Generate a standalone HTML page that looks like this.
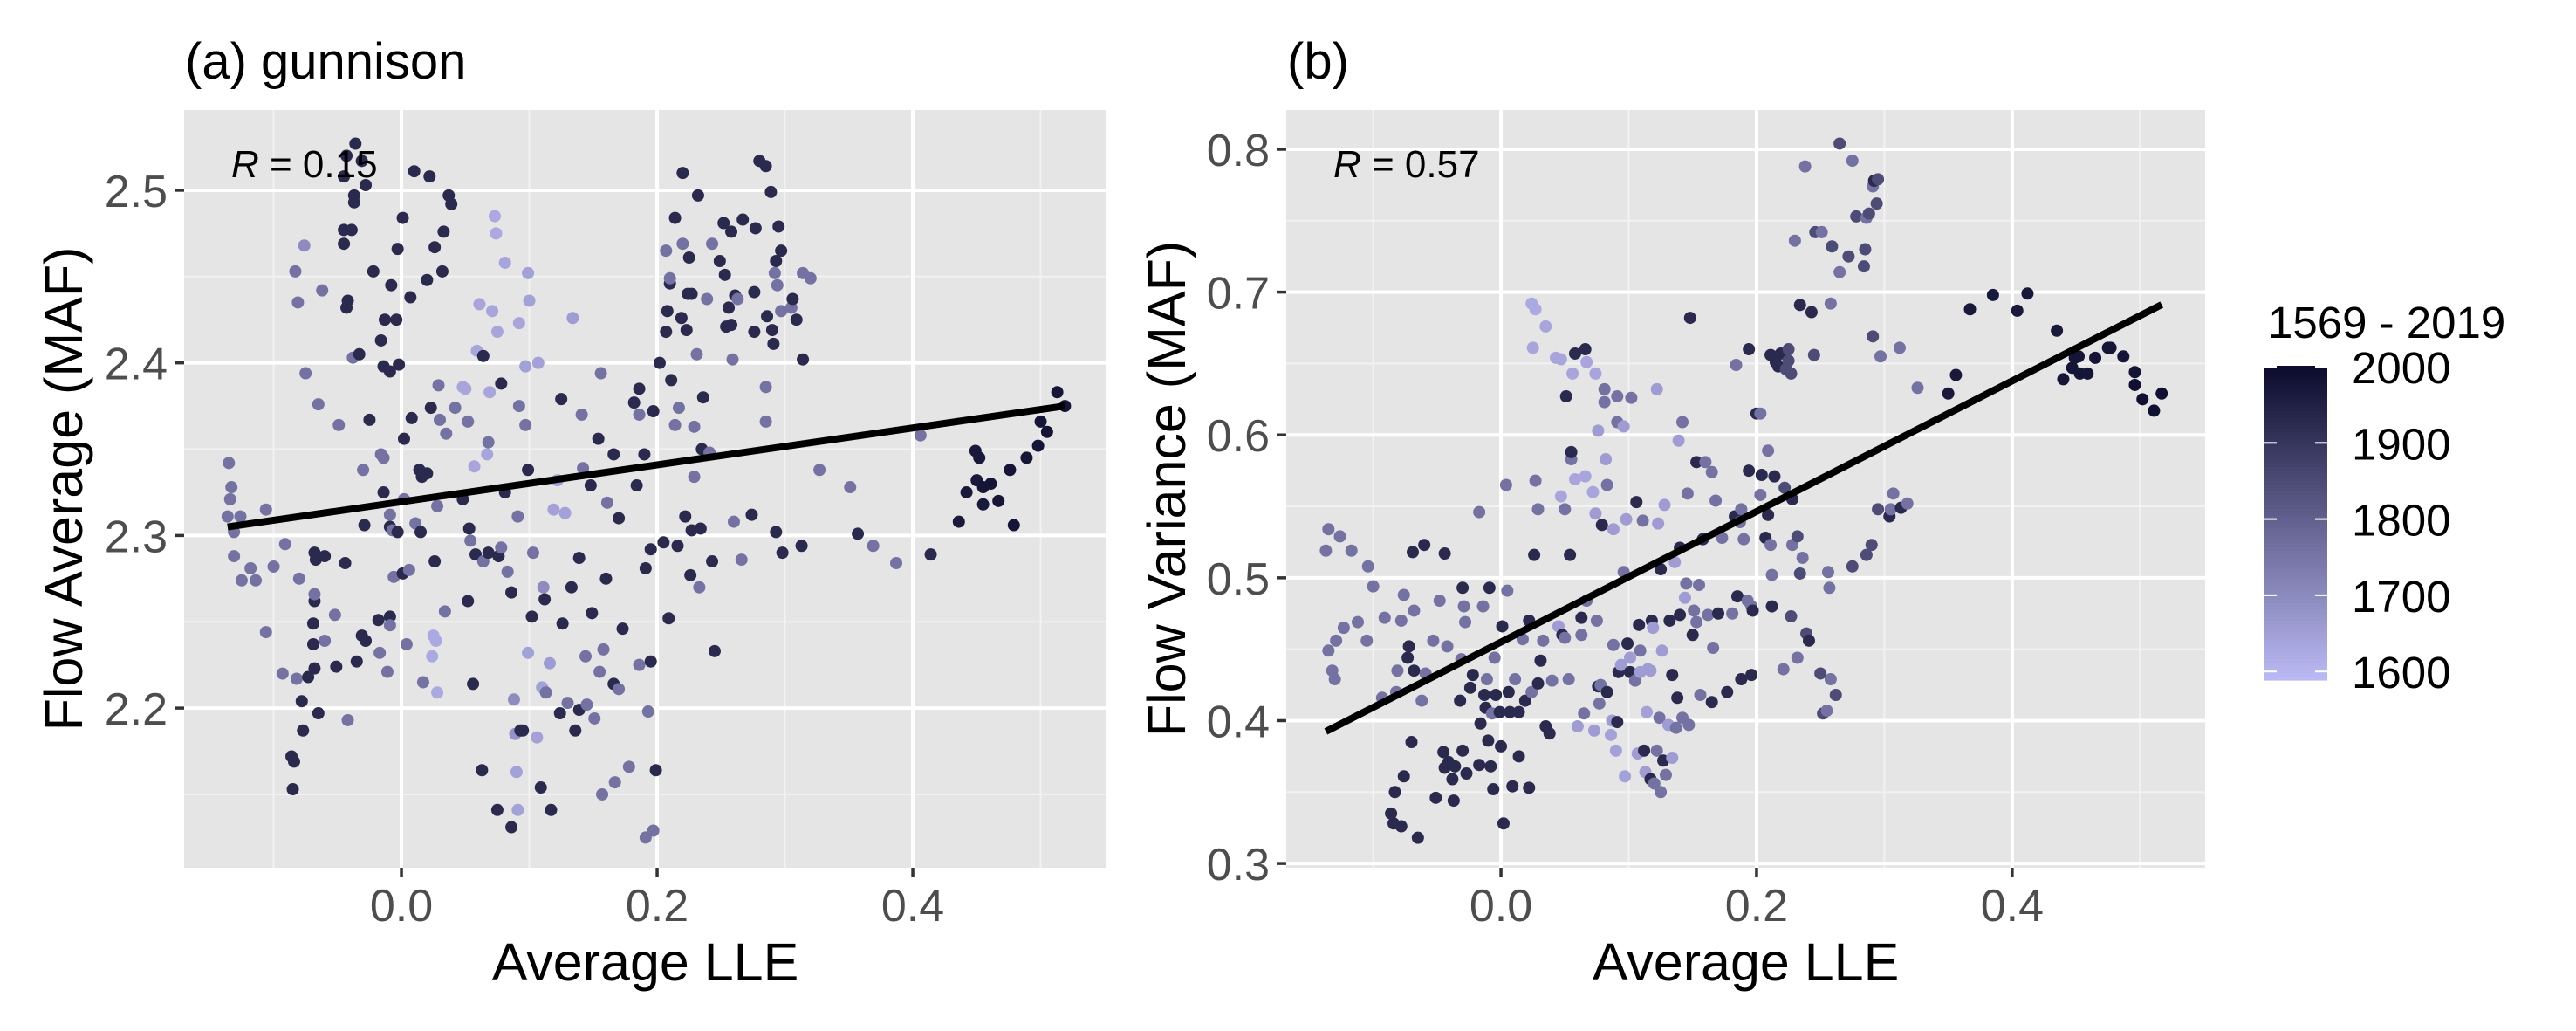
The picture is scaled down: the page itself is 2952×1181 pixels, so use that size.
<!DOCTYPE html>
<html>
<head>
<meta charset="utf-8">
<style>
html,body{margin:0;padding:0;background:#fff;}
svg{display:block;font-family:"Liberation Sans",Arial,sans-serif;}
</style>
</head>
<body>
<svg id="fig" width="2952" height="1181" viewBox="0 0 2952 1181" xmlns="http://www.w3.org/2000/svg">
  <rect x="0" y="0" width="2952" height="1181" fill="#ffffff"/>
  <g id="panelA"></g>
  <g id="panelB"></g>
  <g id="legend"></g>
</svg>
<script>
// ---------------- DATA ----------------
// Panel (a): average LLE vs flow average
const lleA = [-0.135,-0.136,-0.133,-0.134,-0.126,-0.131,-0.131,-0.125,-0.118,-0.114,-0.106,-0.100,-0.106,-0.091,-0.093,-0.086,-0.085,-0.084,-0.082,-0.078,-0.077,-0.080,-0.083,-0.081,-0.076,-0.075,-0.073,-0.068,-0.069,-0.069,-0.068,-0.068,-0.068,-0.067,-0.060,-0.065,-0.065,-0.062,-0.060,-0.052,-0.051,-0.049,-0.045,-0.045,-0.043,-0.042,-0.045,-0.043,-0.039,-0.037,-0.037,-0.036,-0.031,-0.028,-0.044,-0.042,-0.035,-0.038,-0.033,-0.030,-0.029,-0.031,-0.028,-0.025,-0.022,-0.018,-0.017,-0.016,-0.016,-0.014,-0.014,-0.014,-0.013,-0.011,-0.009,-0.009,-0.009,-0.008,-0.009,-0.009,-0.007,-0.006,-0.004,-0.003,-0.002,-0.003,0.001,0.002,0.001,0.002,0.004,0.007,0.006,0.008,0.010,0.011,0.015,0.014,0.016,0.017,0.020,0.020,0.022,0.023,0.026,0.026,0.028,0.024,0.025,0.027,0.028,0.029,0.030,0.032,0.033,0.035,0.034,0.037,0.039,0.042,0.048,0.048,0.050,0.052,0.052,0.053,0.054,0.056,0.057,0.058,0.059,0.061,0.064,0.063,0.064,0.067,0.068,0.068,0.069,0.071,0.073,0.074,0.075,0.075,0.076,0.078,0.078,0.081,0.081,0.083,0.086,0.086,0.088,0.089,0.090,0.091,0.092,0.093,0.091,0.092,0.095,0.097,0.097,0.099,0.099,0.100,0.099,0.102,0.103,0.106,0.107,0.109,0.110,0.111,0.112,0.113,0.116,0.117,0.119,0.122,0.124,0.126,0.125,0.128,0.130,0.133,0.134,0.136,0.139,0.139,0.141,0.142,0.144,0.145,0.148,0.149,0.151,0.155,0.154,0.156,0.157,0.158,0.160,0.161,0.166,0.166,0.167,0.170,0.170,0.173,0.178,0.182,0.184,0.186,0.186,0.186,0.190,0.191,0.191,0.193,0.195,0.197,0.195,0.197,0.199,0.202,0.205,0.207,0.207,0.208,0.209,0.210,0.210,0.211,0.214,0.214,0.216,0.217,0.220,0.220,0.219,0.223,0.224,0.225,0.227,0.222,0.226,0.227,0.229,0.229,0.231,0.232,0.233,0.234,0.236,0.235,0.239,0.241,0.243,0.243,0.245,0.249,0.252,0.253,0.254,0.256,0.258,0.258,0.259,0.260,0.261,0.263,0.266,0.267,0.274,0.276,0.277,0.276,0.280,0.285,0.285,0.286,0.285,0.289,0.290,0.291,0.292,0.293,0.293,0.294,0.295,0.297,0.297,0.298,0.305,0.306,0.309,0.313,0.314,0.314,0.320,0.327,0.351,0.357,0.369,0.387,0.406,0.414,0.436,0.442,0.449,0.450,0.452,0.455,0.455,0.461,0.467,0.476,0.479,0.489,0.498,0.500,0.505,0.513,0.519];
const avgA = [2.342,2.311,2.328,2.321,2.311,2.302,2.288,2.274,2.281,2.274,2.315,2.282,2.244,2.295,2.220,2.172,2.153,2.169,2.217,2.204,2.187,2.275,2.453,2.435,2.468,2.394,2.218,2.223,2.237,2.249,2.262,2.266,2.290,2.286,2.288,2.197,2.376,2.442,2.239,2.254,2.224,2.364,2.469,2.477,2.432,2.436,2.508,2.520,2.477,2.497,2.493,2.527,2.517,2.503,2.284,2.193,2.227,2.403,2.405,2.338,2.306,2.242,2.239,2.367,2.453,2.251,2.232,2.413,2.347,2.325,2.345,2.398,2.425,2.221,2.253,2.248,2.395,2.445,2.312,2.305,2.303,2.276,2.425,2.466,2.399,2.302,2.484,2.356,2.278,2.321,2.237,2.438,2.280,2.368,2.511,2.307,2.302,2.338,2.334,2.215,2.336,2.448,2.508,2.374,2.467,2.285,2.317,2.230,2.242,2.239,2.209,2.387,2.367,2.453,2.476,2.359,2.256,2.497,2.492,2.374,2.321,2.386,2.385,2.366,2.262,2.304,2.297,2.214,2.340,2.289,2.407,2.434,2.404,2.164,2.285,2.347,2.354,2.290,2.383,2.430,2.485,2.475,2.418,2.141,2.288,2.388,2.293,2.325,2.458,2.279,2.131,2.267,2.205,2.185,2.163,2.141,2.375,2.187,2.311,2.423,2.187,2.398,2.364,2.232,2.452,2.436,2.338,2.253,2.290,2.183,2.400,2.154,2.212,2.270,2.263,2.209,2.226,2.141,2.315,2.332,2.197,2.249,2.379,2.313,2.203,2.270,2.426,2.187,2.199,2.287,2.370,2.339,2.230,2.202,2.329,2.255,2.194,2.221,2.356,2.394,2.150,2.234,2.275,2.319,2.214,2.347,2.157,2.310,2.211,2.246,2.166,2.377,2.329,2.225,2.385,2.370,2.347,2.125,2.281,2.198,2.227,2.372,2.292,2.129,2.164,2.400,2.296,2.465,2.418,2.430,2.252,2.446,2.449,2.390,2.484,2.364,2.294,2.374,2.469,2.510,2.426,2.419,2.440,2.461,2.440,2.311,2.277,2.303,2.334,2.363,2.405,2.497,2.270,2.304,2.380,2.350,2.437,2.348,2.469,2.285,2.233,2.459,2.481,2.451,2.421,2.432,2.476,2.422,2.402,2.308,2.439,2.437,2.286,2.483,2.312,2.418,2.478,2.441,2.517,2.514,2.386,2.427,2.366,2.499,2.419,2.411,2.452,2.459,2.302,2.445,2.479,2.465,2.430,2.290,2.432,2.437,2.425,2.294,2.452,2.402,2.449,2.338,2.328,2.301,2.294,2.284,2.358,2.289,2.308,2.325,2.349,2.332,2.345,2.318,2.328,2.330,2.320,2.338,2.306,2.345,2.352,2.366,2.360,2.383,2.375];
const yearA = [1760,1760,1760,1760,1760,1760,1760,1760,1760,1760,1760,1760,1760,1760,1760,1930,1930,1930,1760,1930,1930,1760,1760,1760,1700,1760,1930,1930,1930,1930,1930,1760,1930,1930,1930,1930,1760,1760,1760,1760,1930,1760,1930,1930,1930,1930,1930,1930,1930,1930,1930,1930,1930,1930,1930,1760,1930,1760,1930,1760,1930,1930,1930,1930,1930,1930,1760,1930,1760,1930,1760,1930,1930,1760,1930,1760,1930,1930,1760,1930,1760,1760,1930,1930,1930,1930,1930,1930,1930,1760,1760,1930,1760,1930,1930,1760,1930,1930,1930,1760,1930,1930,1930,1930,1930,1930,1760,1630,1630,1630,1630,1760,1760,1930,1930,1760,1760,1930,1930,1760,1930,1640,1640,1760,1930,1930,1760,1930,1640,1930,1640,1640,1930,1930,1760,1640,1760,1930,1640,1640,1630,1630,1640,1930,1930,1930,1760,1930,1640,1760,1930,1930,1700,1680,1650,1650,1760,1930,1760,1640,1930,1650,1760,1650,1650,1650,1930,1930,1760,1650,1650,1930,1650,1700,1930,1760,1660,1930,1650,1650,1930,1930,1930,1650,1760,1930,1660,1930,1930,1930,1760,1760,1760,1760,1930,1930,1760,1760,1930,1760,1760,1760,1930,1760,1930,1930,1760,1930,1760,1930,1760,1930,1930,1760,1930,1760,1930,1760,1930,1760,1930,1930,1930,1760,1930,1930,1930,1760,1930,1930,1930,1930,1760,1930,1930,1760,1930,1760,1760,1930,1930,1930,1930,1930,1930,1930,1930,1930,1760,1760,1760,1930,1760,1930,1930,1930,1760,1760,1760,1930,1930,1930,1930,1930,1930,1930,1930,1930,1760,1760,1930,1760,1760,1930,1930,1930,1930,1930,1930,1930,1760,1930,1760,1930,1930,1930,1760,1930,1930,1760,1930,1930,1760,1930,1760,1930,1930,1930,1760,1930,1760,1760,1760,1930,1760,1760,1760,1930,1970,1970,1970,1970,1970,1970,1980,1980,1980,1980,1980,1980,1980,1980,1980,1980,1980,1990,1990,1990,1990,1990,1990];

// Panel (b): average LLE vs flow variance
const lleB = [-0.137,-0.135,-0.135,-0.132,-0.130,-0.129,-0.126,-0.123,-0.117,-0.112,-0.105,-0.104,-0.100,-0.093,-0.091,-0.086,-0.084,-0.083,-0.082,-0.081,-0.078,-0.078,-0.076,-0.076,-0.073,-0.072,-0.070,-0.069,-0.068,-0.068,-0.065,-0.062,-0.060,-0.059,-0.053,-0.051,-0.048,-0.045,-0.044,-0.044,-0.042,-0.041,-0.038,-0.037,-0.036,-0.032,-0.031,-0.030,-0.030,-0.029,-0.028,-0.027,-0.024,-0.022,-0.017,-0.017,-0.016,-0.014,-0.013,-0.012,-0.011,-0.010,-0.009,-0.008,-0.007,-0.006,-0.005,-0.004,-0.001,0.000,0.001,0.002,0.004,0.005,0.006,0.007,0.009,0.011,0.014,0.014,0.017,0.019,0.022,0.022,0.024,0.024,0.027,0.025,0.026,0.027,0.029,0.029,0.031,0.033,0.035,0.035,0.038,0.040,0.043,0.047,0.045,0.047,0.048,0.050,0.050,0.051,0.053,0.054,0.055,0.055,0.056,0.058,0.058,0.060,0.063,0.063,0.065,0.066,0.066,0.067,0.067,0.072,0.073,0.074,0.074,0.075,0.076,0.076,0.077,0.078,0.079,0.081,0.081,0.082,0.083,0.083,0.086,0.087,0.088,0.088,0.090,0.091,0.091,0.091,0.092,0.094,0.096,0.096,0.098,0.097,0.099,0.101,0.101,0.102,0.105,0.106,0.107,0.108,0.109,0.109,0.111,0.112,0.113,0.114,0.115,0.117,0.117,0.118,0.119,0.120,0.122,0.122,0.123,0.124,0.125,0.125,0.126,0.127,0.128,0.129,0.131,0.132,0.134,0.134,0.136,0.137,0.138,0.139,0.140,0.140,0.142,0.142,0.144,0.145,0.146,0.147,0.148,0.150,0.151,0.153,0.153,0.155,0.156,0.158,0.160,0.162,0.165,0.165,0.166,0.168,0.170,0.173,0.177,0.181,0.183,0.184,0.185,0.187,0.188,0.188,0.190,0.193,0.194,0.194,0.196,0.196,0.197,0.200,0.203,0.203,0.204,0.207,0.209,0.209,0.211,0.211,0.212,0.212,0.214,0.215,0.217,0.219,0.221,0.222,0.223,0.225,0.225,0.227,0.227,0.228,0.228,0.230,0.232,0.232,0.234,0.234,0.236,0.238,0.239,0.241,0.243,0.245,0.246,0.250,0.251,0.252,0.255,0.256,0.257,0.258,0.258,0.259,0.262,0.265,0.265,0.272,0.275,0.275,0.278,0.284,0.285,0.286,0.286,0.288,0.290,0.291,0.291,0.292,0.294,0.295,0.295,0.297,0.304,0.305,0.307,0.312,0.313,0.318,0.326,0.350,0.356,0.367,0.385,0.404,0.412,0.435,0.440,0.447,0.449,0.452,0.453,0.459,0.465,0.475,0.477,0.487,0.496,0.496,0.502,0.511,0.517];
const varB = [0.519,0.534,0.449,0.435,0.429,0.456,0.529,0.465,0.519,0.469,0.456,0.508,0.494,0.416,0.472,0.335,0.328,0.350,0.420,0.435,0.470,0.326,0.361,0.488,0.444,0.452,0.385,0.518,0.477,0.435,0.318,0.414,0.523,0.433,0.456,0.346,0.484,0.378,0.367,0.517,0.452,0.371,0.359,0.344,0.368,0.414,0.443,0.379,0.493,0.480,0.469,0.363,0.423,0.432,0.546,0.369,0.398,0.480,0.418,0.409,0.429,0.386,0.493,0.368,0.405,0.352,0.444,0.418,0.406,0.382,0.466,0.328,0.565,0.491,0.420,0.406,0.354,0.429,0.406,0.375,0.457,0.414,0.353,0.470,0.692,0.420,0.688,0.661,0.516,0.568,0.548,0.426,0.442,0.456,0.396,0.676,0.391,0.428,0.654,0.653,0.466,0.557,0.460,0.548,0.458,0.627,0.429,0.516,0.583,0.588,0.643,0.657,0.569,0.396,0.472,0.460,0.405,0.660,0.571,0.484,0.651,0.560,0.393,0.643,0.545,0.470,0.603,0.424,0.412,0.425,0.537,0.623,0.632,0.583,0.565,0.420,0.390,0.400,0.534,0.453,0.379,0.609,0.627,0.399,0.434,0.439,0.606,0.504,0.541,0.361,0.454,0.434,0.444,0.626,0.428,0.553,0.377,0.467,0.449,0.434,0.540,0.379,0.364,0.406,0.436,0.359,0.435,0.470,0.465,0.356,0.632,0.379,0.538,0.402,0.506,0.350,0.449,0.372,0.551,0.362,0.397,0.470,0.432,0.374,0.511,0.395,0.416,0.596,0.474,0.521,0.609,0.402,0.486,0.496,0.559,0.397,0.682,0.460,0.477,0.469,0.581,0.495,0.418,0.527,0.581,0.474,0.574,0.413,0.451,0.554,0.475,0.528,0.420,0.475,0.543,0.649,0.487,0.539,0.548,0.429,0.527,0.484,0.660,0.575,0.480,0.432,0.477,0.615,0.615,0.558,0.572,0.528,0.589,0.544,0.523,0.656,0.502,0.480,0.571,0.651,0.648,0.657,0.436,0.563,0.646,0.652,0.660,0.643,0.473,0.555,0.523,0.736,0.529,0.444,0.691,0.503,0.514,0.788,0.461,0.456,0.686,0.656,0.742,0.433,0.742,0.405,0.407,0.504,0.493,0.429,0.692,0.732,0.418,0.714,0.804,0.725,0.508,0.792,0.753,0.718,0.730,0.516,0.752,0.755,0.523,0.774,0.669,0.778,0.762,0.779,0.548,0.655,0.543,0.548,0.559,0.661,0.549,0.552,0.633,0.629,0.642,0.688,0.698,0.687,0.699,0.673,0.639,0.647,0.654,0.655,0.643,0.643,0.654,0.661,0.661,0.655,0.644,0.635,0.625,0.617,0.629];
const yearB = [1760,1760,1760,1760,1760,1760,1760,1760,1760,1760,1760,1760,1760,1760,1760,1930,1930,1930,1760,1760,1760,1930,1930,1760,1930,1930,1930,1930,1760,1930,1930,1760,1930,1760,1760,1930,1760,1930,1930,1930,1760,1930,1930,1930,1930,1930,1760,1930,1930,1760,1760,1930,1930,1930,1760,1930,1930,1760,1930,1930,1760,1930,1930,1930,1760,1930,1760,1930,1930,1930,1930,1930,1760,1760,1930,1930,1930,1760,1930,1930,1760,1930,1930,1930,1630,1760,1630,1640,1930,1760,1760,1930,1930,1760,1930,1640,1930,1760,1640,1640,1660,1640,1930,1760,1760,1930,1760,1930,1760,1930,1640,1930,1640,1660,1930,1760,1760,1930,1640,1760,1640,1640,1660,1640,1660,1760,1660,1930,1760,1760,1930,1760,1760,1660,1760,1930,1650,1660,1660,1760,1650,1760,1760,1930,1930,1660,1660,1760,1660,1650,1930,1930,1660,1760,1760,1930,1660,1930,1760,1660,1760,1930,1660,1650,1660,1930,1660,1930,1660,1760,1660,1760,1660,1760,1930,1760,1660,1930,1660,1760,1660,1930,1930,1660,1660,1760,1930,1660,1930,1930,1760,1760,1660,1760,1760,1760,1930,1930,1760,1760,1930,1760,1760,1930,1760,1760,1760,1930,1760,1760,1930,1760,1930,1760,1930,1760,1930,1760,1760,1930,1760,1760,1930,1930,1760,1930,1930,1930,1760,1760,1930,1930,1760,1930,1760,1930,1760,1930,1930,1930,1930,1930,1760,1850,1850,1850,1850,1850,1850,1930,1760,1760,1850,1760,1930,1850,1760,1760,1850,1930,1930,1850,1850,1850,1760,1850,1760,1760,1760,1760,1760,1850,1850,1760,1850,1850,1850,1760,1850,1850,1850,1850,1760,1850,1850,1760,1850,1930,1850,1850,1850,1760,1930,1760,1760,1760,1930,1760,1760,1970,1970,1970,1970,1970,1970,1970,1980,1980,1980,1980,1980,1980,1980,1980,1980,1980,1980,1990,1990,1990,1990,1990,1990];

// fitted lm lines (intercept, slope) and correlation labels
const fitA = [2.3195, 0.107];
const fitB = [0.455, 0.457];
const rLabels = ["0.15", "0.57"];

// axis ticks
const xTicks = [0.0, 0.2, 0.4];
const xMinor = [-0.1, 0.1, 0.3, 0.5];
const yTicksA = [2.2, 2.3, 2.4, 2.5];
const yMinorA = [2.15, 2.25, 2.35, 2.45];
const yTicksB = [0.3, 0.4, 0.5, 0.6, 0.7, 0.8];
const yMinorB = [0.35, 0.45, 0.55, 0.65, 0.75];
const legendTicks = [1600, 1700, 1800, 1900, 2000];

// ---------------- DRAW ----------------
const NS = "http://www.w3.org/2000/svg";
function mk(tag, attrs, parent) {
  const e = document.createElementNS(NS, tag);
  for (const k in attrs) e.setAttribute(k, attrs[k]);
  parent.appendChild(e);
  return e;
}
const lo = [197, 195, 255], hi = [4, 4, 36];
function yearColor(y) {
  let t = (y - 1569) / (2019 - 1569);
  t = Math.max(0, Math.min(1, t));
  const c = lo.map((v, i) => Math.round(v + (hi[i] - v) * t));
  return "rgb(" + c.join(",") + ")";
}
function fmt(v) { return v.toFixed(1); }

function panel(g, cfg) {
  const L = cfg.left, R = cfg.right, T = 126, B = 994;
  const sx = v => L + (v - cfg.xmin) / (cfg.xmax - cfg.xmin) * (R - L);
  const sy = v => B - (v - cfg.ymin) / (cfg.ymax - cfg.ymin) * (B - T);
  const bg = mk("rect", {x: L, y: T, width: R - L, height: B - T, fill: "#e5e5e5"}, g);
  
  
  cfg.yMinor.forEach(v => {
    const l = mk("line", {x1: L, x2: R, y1: sy(v), y2: sy(v), stroke: "#f2f2f2", "stroke-width": 2}, g);
    
    
  });
  xMinor.forEach(v => {
    const l = mk("line", {x1: sx(v), x2: sx(v), y1: T, y2: B, stroke: "#f2f2f2", "stroke-width": 2}, g);
    
    
  });
  cfg.yTicks.forEach(v => {
    const l = mk("line", {x1: L, x2: R, y1: sy(v), y2: sy(v), stroke: "#ffffff", "stroke-width": 4}, g);
    
    
    const tk = mk("line", {x1: L - 11, x2: L, y1: sy(v), y2: sy(v), stroke: "#333333", "stroke-width": 3.5}, g);
    
    
    const t = mk("text", {x: L - 19, y: sy(v) + 19, "text-anchor": "end", "font-size": 52, fill: "#4d4d4d"}, g);
    t.textContent = fmt(v);
    
    
  });
  xTicks.forEach(v => {
    const l = mk("line", {x1: sx(v), x2: sx(v), y1: T, y2: B, stroke: "#ffffff", "stroke-width": 4}, g);
    
    
    const tk = mk("line", {x1: sx(v), x2: sx(v), y1: B, y2: B + 11, stroke: "#333333", "stroke-width": 3.5}, g);
    
    
    const t = mk("text", {x: sx(v), y: 1055, "text-anchor": "middle", "font-size": 52, fill: "#4d4d4d"}, g);
    t.textContent = fmt(v);
    
    
  });
  // points
  const pg = mk("g", {}, g);
  
  
  cfg.xs.forEach((xv, i) => {
    const c = mk("circle", {cx: sx(xv), cy: sy(cfg.ys[i]), r: 7, fill: yearColor(cfg.yrs[i])}, pg);
    
    
  });
  // regression line
  const x0 = Math.min(...cfg.xs), x1 = Math.max(...cfg.xs);
  const ln = mk("line", {x1: sx(x0), y1: sy(cfg.fit[0] + cfg.fit[1] * x0), x2: sx(x1), y2: sy(cfg.fit[0] + cfg.fit[1] * x1), stroke: "#000", "stroke-width": 8}, g);
  
  
  // R label
  const rt = mk("text", {x: L + 54, y: 203, "font-size": 44, fill: "#000"}, g);
  
  
  const it = mk("tspan", {"font-style": "italic"}, rt);
  it.textContent = "R";
  const rest = mk("tspan", {}, rt);
  rest.textContent = " = " + cfg.r;
  // titles
  const tt = mk("text", {x: L + 1, y: 90, "font-size": 58, fill: "#000"}, g);
  tt.textContent = cfg.title;
  
  
  const xt = mk("text", {x: (L + R) / 2, y: 1123, "text-anchor": "middle", "font-size": 61, fill: "#000"}, g);
  xt.textContent = "Average LLE";
  
  
  const yt = mk("text", {x: 0, y: 0, "text-anchor": "middle", "font-size": 61, fill: "#000", transform: "translate(" + cfg.ytx + "," + ((T + B) / 2) + ") rotate(-90)"}, g);
  yt.textContent = cfg.ytitle;
  
  
}

panel(document.getElementById("panelA"), {
  left: 211, right: 1268, xmin: -0.170, xmax: 0.5515,
  ymin: 2.1075, ymax: 2.5465, xs: lleA, ys: avgA, yrs: yearA,
  yTicks: yTicksA, yMinor: yMinorA, fit: fitA, r: rLabels[0],
  title: "(a) gunnison", ytitle: "Flow Average (MAF)", ytx: 94
});
panel(document.getElementById("panelB"), {
  left: 1474, right: 2527, xmin: -0.168, xmax: 0.551,
  ymin: 0.297, ymax: 0.8275, xs: lleB, ys: varB, yrs: yearB,
  yTicks: yTicksB, yMinor: yMinorB, fit: fitB, r: rLabels[1],
  title: "(b)", ytitle: "Flow Variance (MAF)", ytx: 1358
});

// legend colorbar
(function () {
  const g = document.getElementById("legend");
  const top = 419, bot = 779, x = 2595, w = 72;
  const yy = yr => 420 + (2000 - yr) * 0.873;
  const ttl = mk("text", {x: 2599, y: 387, "font-size": 51, fill: "#000"}, g);
  ttl.textContent = "1569 - 2019";
  
  
  const n = 90;
  for (let i = 0; i < n; i++) {
    const y0 = top + (bot - top) * i / n;
    const yr = 2000 - (y0 - 420) / 0.873;
    const r = mk("rect", {x: x, y: y0, width: w, height: (bot - top) / n + 0.6, fill: yearColor(yr)}, g);
    
    
  }
  legendTicks.forEach(v => {
    const y = yy(v);
    const a = mk("line", {x1: x, x2: x + 14, y1: y, y2: y, stroke: "#fff", "stroke-width": 2}, g);
    
    
    const b = mk("line", {x1: x + w - 14, x2: x + w, y1: y, y2: y, stroke: "#fff", "stroke-width": 2}, g);
    
    
    const t = mk("text", {x: 2695, y: y + 19, "font-size": 51, fill: "#000"}, g);
    t.textContent = String(v);
    
    
  });
})();
</script>
</body>
</html>
